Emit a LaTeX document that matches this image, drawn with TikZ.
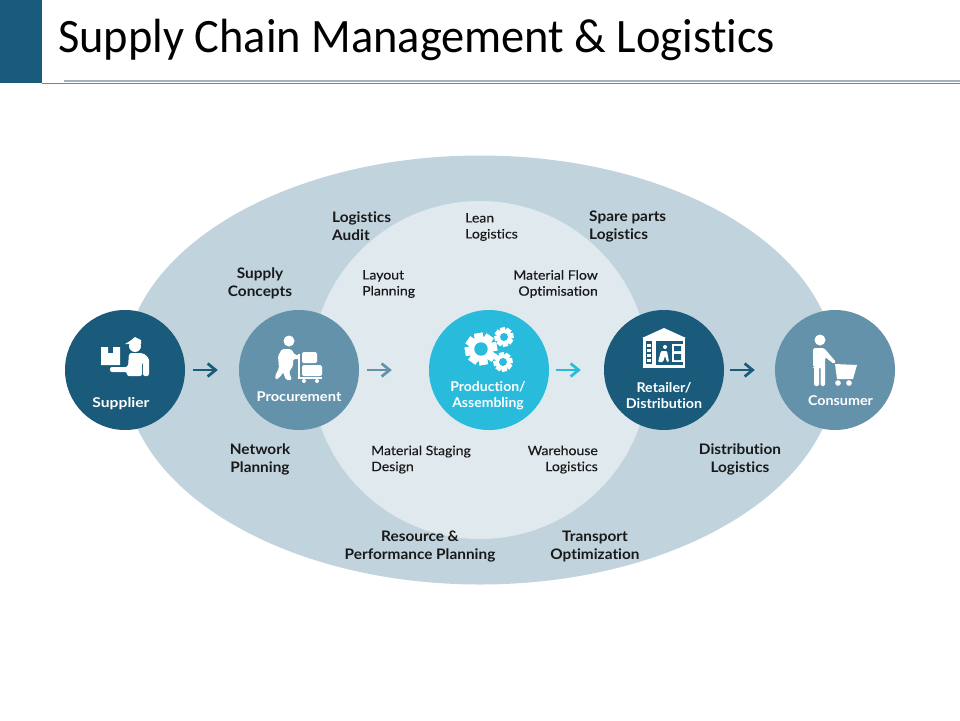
\documentclass[tikz,border=0pt]{standalone}
\usepackage{fontspec}
\setmainfont[Ligatures=NoCommon]{Lato}
\newfontfamily\titlefont[Ligatures=NoCommon]{Carlito}
\newfontfamily\smallfont[FakeBold=0.25,Ligatures=NoCommon]{Lato}
\usetikzlibrary{arrows.meta}
\definecolor{darkblue}{HTML}{1A5A7A}
\definecolor{midblue}{HTML}{6592AB}
\definecolor{cyanblue}{HTML}{29BBDB}
\definecolor{outerfill}{HTML}{C1D3DC}
\definecolor{innerfill}{HTML}{E0E9EE}
\tikzset{
  stage/.style={circle,minimum size=120pt,inner sep=0pt},
  stagelabel/.style={text=white,inner sep=0pt,align=center,font=\fontsize{13.5}{16}\selectfont\bfseries},
  biglabel/.style={align=center,inner sep=0pt,text=black!90,xscale=1.06,font=\fontsize{14.5}{18}\selectfont\bfseries},
  smalllabel/.style={align=left,inner sep=0pt,text=black!90,xscale=1.08,font=\smallfont\fontsize{13}{16}\selectfont},
  flow/.style={-{Straight Barb[length=8pt,width=13pt]},line width=2.7pt},
  icon/.style={fill=white,draw=none}
}
\newcommand{\gearicon}[4]{% x, y, radius, hole colour
  \foreach \a in {0,45,...,315}
    \fill[white,rotate around={\a+10:(#1,#2)}] (#1-#3*0.27,#2-#3) rectangle (#1+#3*0.27,#2+#3);
  \fill[white] (#1,#2) circle (#3*0.78);
  \fill[#4] (#1,#2) circle (#3*0.42);
}
\begin{document}
\begin{tikzpicture}[x=1pt,y=-1pt]
\useasboundingbox (0,0) rectangle (960,720);

% header
\fill[darkblue] (0,0) rectangle (42,83);
\fill[black!15!outerfill] (64,79.5) rectangle (960,81.5);
\fill[darkblue!70] (42,83) rectangle (960,83.6);
\node[anchor=base west,inner sep=0pt,xscale=0.967,font=\titlefont\fontsize{48}{50}\selectfont] (title) at (58,52) {Supply Chain Management \& Logistics};

% backgrounds
\fill[outerfill] (480,370) ellipse (356 and 214.5);
\fill[innerfill] (480,370) circle (169);

% stages
\node[stage,fill=darkblue] (supplier) at (125,370) {};
\node[stage,fill=midblue] (procurement) at (299,370) {};
\node[stage,fill=cyanblue] (production) at (489,370) {};
\node[stage,fill=darkblue] (retailer) at (664,370) {};
\node[stage,fill=midblue] (consumer) at (835,370) {};

\node[stagelabel,xscale=1.16] (supplierlabel) at (121,403.5) {Supplier};
\node[stagelabel,xscale=1.087] (procurementlabel) at (299,396.5) {Procurement};
\node[stagelabel,xscale=1.037] (productionlabel) at (488,396) {Production/\\Assembling};
\node[stagelabel,xscale=1.058] (retailerlabel) at (664,396) {Retailer/\\Distribution};
\node[stagelabel,xscale=1.06] (consumerlabel) at (840.5,400.5) {Consumer};

% arrows
\draw[flow,darkblue,shorten <=8pt,shorten >=21pt] (supplier) -- (procurement);
\draw[flow,midblue,shorten <=8pt,shorten >=37pt] (procurement) -- (production);
\draw[flow,cyanblue,shorten <=7pt,shorten >=23pt] (production) -- (retailer);
\draw[flow,darkblue,shorten <=6pt,shorten >=20pt] (retailer) -- (consumer);

% outer labels
\node[biglabel,anchor=west,align=left] (audit) at (332,226.5) {Logistics\\Audit};
\node[biglabel,anchor=west,align=left] (spare) at (589,226.5) {Spare parts\\Logistics};
\node[biglabel] (concepts) at (260,283.5) {Supply\\Concepts};
\node[biglabel] (network) at (260,459.5) {Network\\Planning};
\node[biglabel] (distribution) at (740,459.5) {Distribution\\Logistics};
\node[biglabel] (resource) at (420,546.5) {Resource \&\\Performance Planning};
\node[biglabel] (transport) at (595,546.5) {Transport\\Optimization};

% inner labels
\node[smalllabel,anchor=west] (lean) at (465,227) {Lean\\Logistics};
\node[smalllabel,anchor=west] (layout) at (362,284) {Layout\\Planning};
\node[smalllabel,anchor=east,align=right] (flowopt) at (598,284) {Material Flow\\Optimisation};
\node[smalllabel,anchor=west] (staging) at (371,459.5) {Material Staging\\Design};
\node[smalllabel,anchor=east,align=right] (warehouse) at (598,459.5) {Warehouse\\Logistics};

% supplier icon
\fill[icon] (101,347) -- (108,347) -- (108,353) -- (113,353) -- (113,347) -- (120,347) -- (120,365) -- (101,365) -- cycle;
\fill[icon] (135,346) circle (6);
\fill[icon] (125,344) -- (130,341) -- (135,337) -- (141,340) -- (141,344) -- cycle;
\fill[icon,rounded corners=2pt] (129,353) -- (143,353) -- (149,358) -- (149,376) -- (143,376) -- (143,362) -- (142,362) -- (142,376) -- (127,376) -- (127,372) -- (110,372) -- (110,367) -- (128,367) -- cycle;

% procurement icon
\fill[icon] (289,341) circle (5.5);
\fill[icon,rounded corners=1.5pt] (282,349) -- (291,349) -- (295,355) -- (299,355) -- (299,359) -- (293,359) -- (293,366) -- (289,372) -- (292,380) -- (286,380) -- (283,372) -- (281,376) -- (276,380) -- (275,376) -- (279,368) -- (278,356) -- cycle;
\fill[icon,rounded corners=1.5pt] (302,352) rectangle (317,363);
\fill[icon,rounded corners=1.5pt] (302,365) rectangle (322,376);
\fill[icon] (298,354) rectangle (300,378);
\fill[icon] (298,376.5) rectangle (322,379);
\fill[icon] (304,381) circle (2) (317,381) circle (2);

% production icon
\gearicon{481}{349}{16}{cyanblue}
\gearicon{504}{337}{9.5}{cyanblue}
\gearicon{503}{362}{9.5}{cyanblue}

% retailer icon
\fill[icon] (642,338) -- (664,328) -- (686,338) -- cycle;
\fill[icon] (643,338) rectangle (685,368);
\fill[darkblue] (646,341) rectangle (652,364);
\foreach \y in {344,349,354,359}
  \fill[white] (647,\y) rectangle (651,\y+2.5);
\fill[darkblue] (656,341) rectangle (683,365);
\fill[white] (672,344) rectangle (683,362);
\fill[darkblue] (674,346) rectangle (681,351) (674,354) rectangle (681,360);
\fill[white] (665,347) circle (2);
\fill[white,rounded corners=1pt] (661,351) -- (667,351) -- (669,362) -- (667,362) -- (665,356) -- (663,362) -- (658,362) -- cycle;

% consumer icon
\fill[icon] (820,340) circle (5.5);
\fill[icon,rounded corners=1.5pt] (813,348) -- (824,348) -- (836,362) -- (834,364) -- (825,357) -- (825,386) -- (820.5,386) -- (820.5,367) -- (819,367) -- (819,386) -- (814,386) -- (814,367) -- (813,367) -- cycle;
\fill[icon] (835,364) -- (857,365) -- (853,379) -- (837,379) -- cycle;
\fill[icon] (838,383) circle (2.8) (849,383) circle (2.8);
\end{tikzpicture}
\end{document}
